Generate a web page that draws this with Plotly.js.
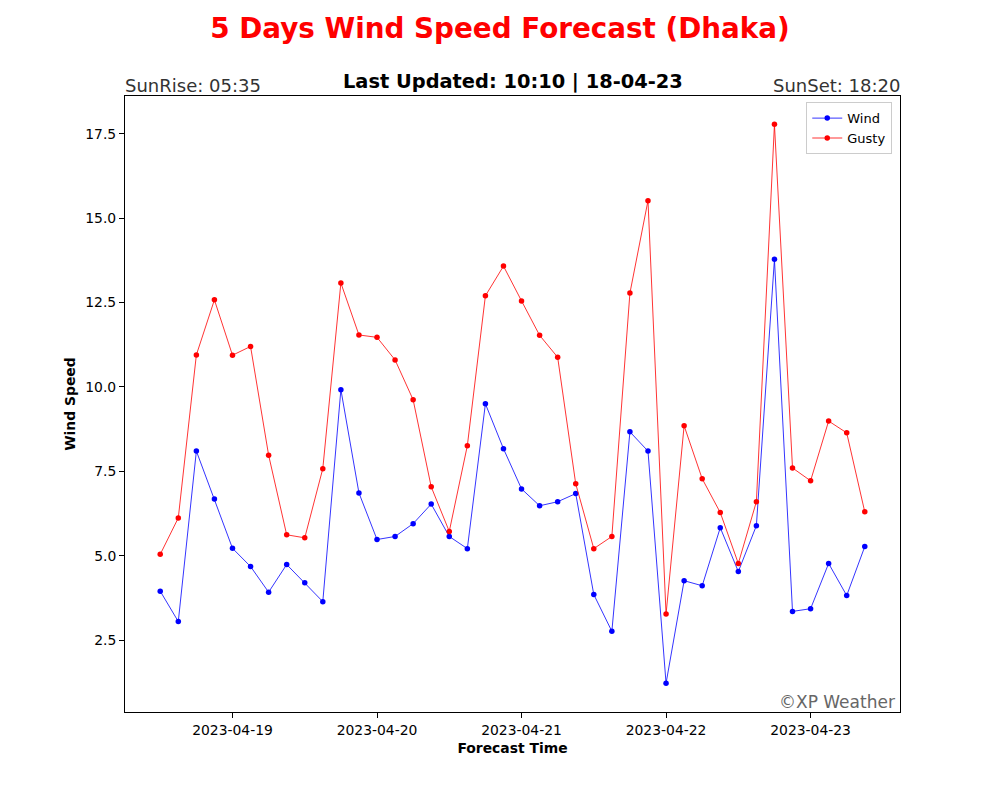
<!DOCTYPE html>
<html>
<head>
<meta charset="utf-8">
<script src="https://cdn.plot.ly/plotly-3.0.1.min.js"></script>
<style>html,body{margin:0;padding:0;background:#fff;}#chart{width:1000px;height:800px;}</style>
</head>
<body>
<div id="chart"></div>
<script>
const times = [
  "2023-04-18 12:00","2023-04-18 15:00","2023-04-18 18:00","2023-04-18 21:00",
  "2023-04-19 00:00","2023-04-19 03:00","2023-04-19 06:00","2023-04-19 09:00",
  "2023-04-19 12:00","2023-04-19 15:00","2023-04-19 18:00","2023-04-19 21:00",
  "2023-04-20 00:00","2023-04-20 03:00","2023-04-20 06:00","2023-04-20 09:00",
  "2023-04-20 12:00","2023-04-20 15:00","2023-04-20 18:00","2023-04-20 21:00",
  "2023-04-21 00:00","2023-04-21 03:00","2023-04-21 06:00","2023-04-21 09:00",
  "2023-04-21 12:00","2023-04-21 15:00","2023-04-21 18:00","2023-04-21 21:00",
  "2023-04-22 00:00","2023-04-22 03:00","2023-04-22 06:00","2023-04-22 09:00",
  "2023-04-22 12:00","2023-04-22 15:00","2023-04-22 18:00","2023-04-22 21:00",
  "2023-04-23 00:00","2023-04-23 03:00","2023-04-23 06:00","2023-04-23 09:00"
];
const wind = [3.95,3.05,8.1,6.68,5.22,4.68,3.92,4.74,4.2,3.64,
              9.92,6.86,5.48,5.57,5.95,6.53,5.57,5.21,9.5,8.17,
              6.98,6.48,6.6,6.84,3.85,2.76,8.67,8.1,1.22,4.26,
              4.11,5.83,4.53,5.89,13.78,3.35,3.43,4.77,3.82,5.27];
const gusty = [5.04,6.12,10.95,12.58,10.94,11.2,7.98,5.62,5.53,7.58,
               13.08,11.54,11.47,10.8,9.62,7.04,5.72,8.26,12.7,13.58,
               12.55,11.53,10.88,7.13,5.21,5.57,12.78,15.52,3.27,8.85,
               7.28,6.28,4.77,6.6,17.78,7.6,7.22,8.99,8.64,6.3];
const tickDates = ["2023-04-19","2023-04-20","2023-04-21","2023-04-22","2023-04-23"];
const yTicks = [2.5,5.0,7.5,10.0,12.5,15.0,17.5];

const font = "DejaVu Sans, sans-serif";
const traces = [
  {x: times, y: wind, name: "Wind", type: "scatter", mode: "lines+markers",
   line: {color: "#0000ff", width: 0.8}, marker: {color: "#0000ff", size: 5.5}},
  {x: times, y: gusty, name: "Gusty", type: "scatter", mode: "lines+markers",
   line: {color: "#ff0000", width: 0.8}, marker: {color: "#ff0000", size: 5.5}}
];
const layout = {
  width: 1000, height: 800,
  margin: {l: 125, r: 100, t: 96, b: 88},
  paper_bgcolor: "#fff", plot_bgcolor: "#fff",
  font: {family: font, size: 13.9, color: "#000"},
  showlegend: true,
  legend: {x: 0.99, y: 0.99, xanchor: "right", yanchor: "top",
           bgcolor: "rgba(255,255,255,0.8)", bordercolor: "#cccccc", borderwidth: 1,
           font: {family: font, size: 13}, itemwidth: 30, tracegroupgap: 0},
  xaxis: {
    type: "date", range: ["2023-04-18 06:09", "2023-04-23 14:51"],
    tickvals: tickDates, ticktext: tickDates,
    showgrid: false, zeroline: false, showline: true, mirror: true,
    linecolor: "#000", linewidth: 1, ticks: "outside", ticklen: 5, tickcolor: "#000",
    tickfont: {family: font, size: 13.9},
    title: {text: "<b>Forecast Time</b>", font: {family: font, size: 13.9}, standoff: 6}
  },
  yaxis: {
    range: [0.37, 18.62], tickvals: yTicks, tickformat: ".1f",
    showgrid: false, zeroline: false, showline: true, mirror: true,
    linecolor: "#000", linewidth: 1, ticks: "outside", ticklen: 5, tickcolor: "#000",
    tickfont: {family: font, size: 13.9},
    title: {text: "<b>Wind Speed</b>", font: {family: font, size: 13.9}, standoff: 6}
  },
  title: {text: "<b>5 Days Wind Speed Forecast (Dhaka)</b>",
          font: {family: font, size: 27.8, color: "#ff0000"},
          x: 0.5, xref: "container", xanchor: "center", y: 0.965, yanchor: "middle"},
  annotations: [
    {text: "<b>Last Updated: 10:10 | 18-04-23</b>", xref: "paper", yref: "paper",
     x: 0.5, y: 1.0, xanchor: "center", yanchor: "bottom", yshift: 1, showarrow: false,
     font: {family: font, size: 19.4, color: "#000"}},
    {text: "SunRise: 05:35", xref: "paper", yref: "paper", x: 0, y: 1.0,
     xanchor: "left", yanchor: "bottom", showarrow: false, xshift: -2, yshift: -2,
     font: {family: font, size: 18, color: "#333333"}},
    {text: "SunSet: 18:20", xref: "paper", yref: "paper", x: 1, y: 1.0,
     xanchor: "right", yanchor: "bottom", showarrow: false, xshift: 2, yshift: -2,
     font: {family: font, size: 18, color: "#333333"}},
    {text: "©XP Weather", xref: "paper", yref: "paper", x: 1, y: 0,
     xanchor: "right", yanchor: "bottom", showarrow: false, xshift: -3, yshift: -2,
     font: {family: font, size: 17, color: "#666666"}}
  ]
};
Plotly.newPlot("chart", traces, layout, {displayModeBar: false, staticPlot: true});
</script>
</body>
</html>
